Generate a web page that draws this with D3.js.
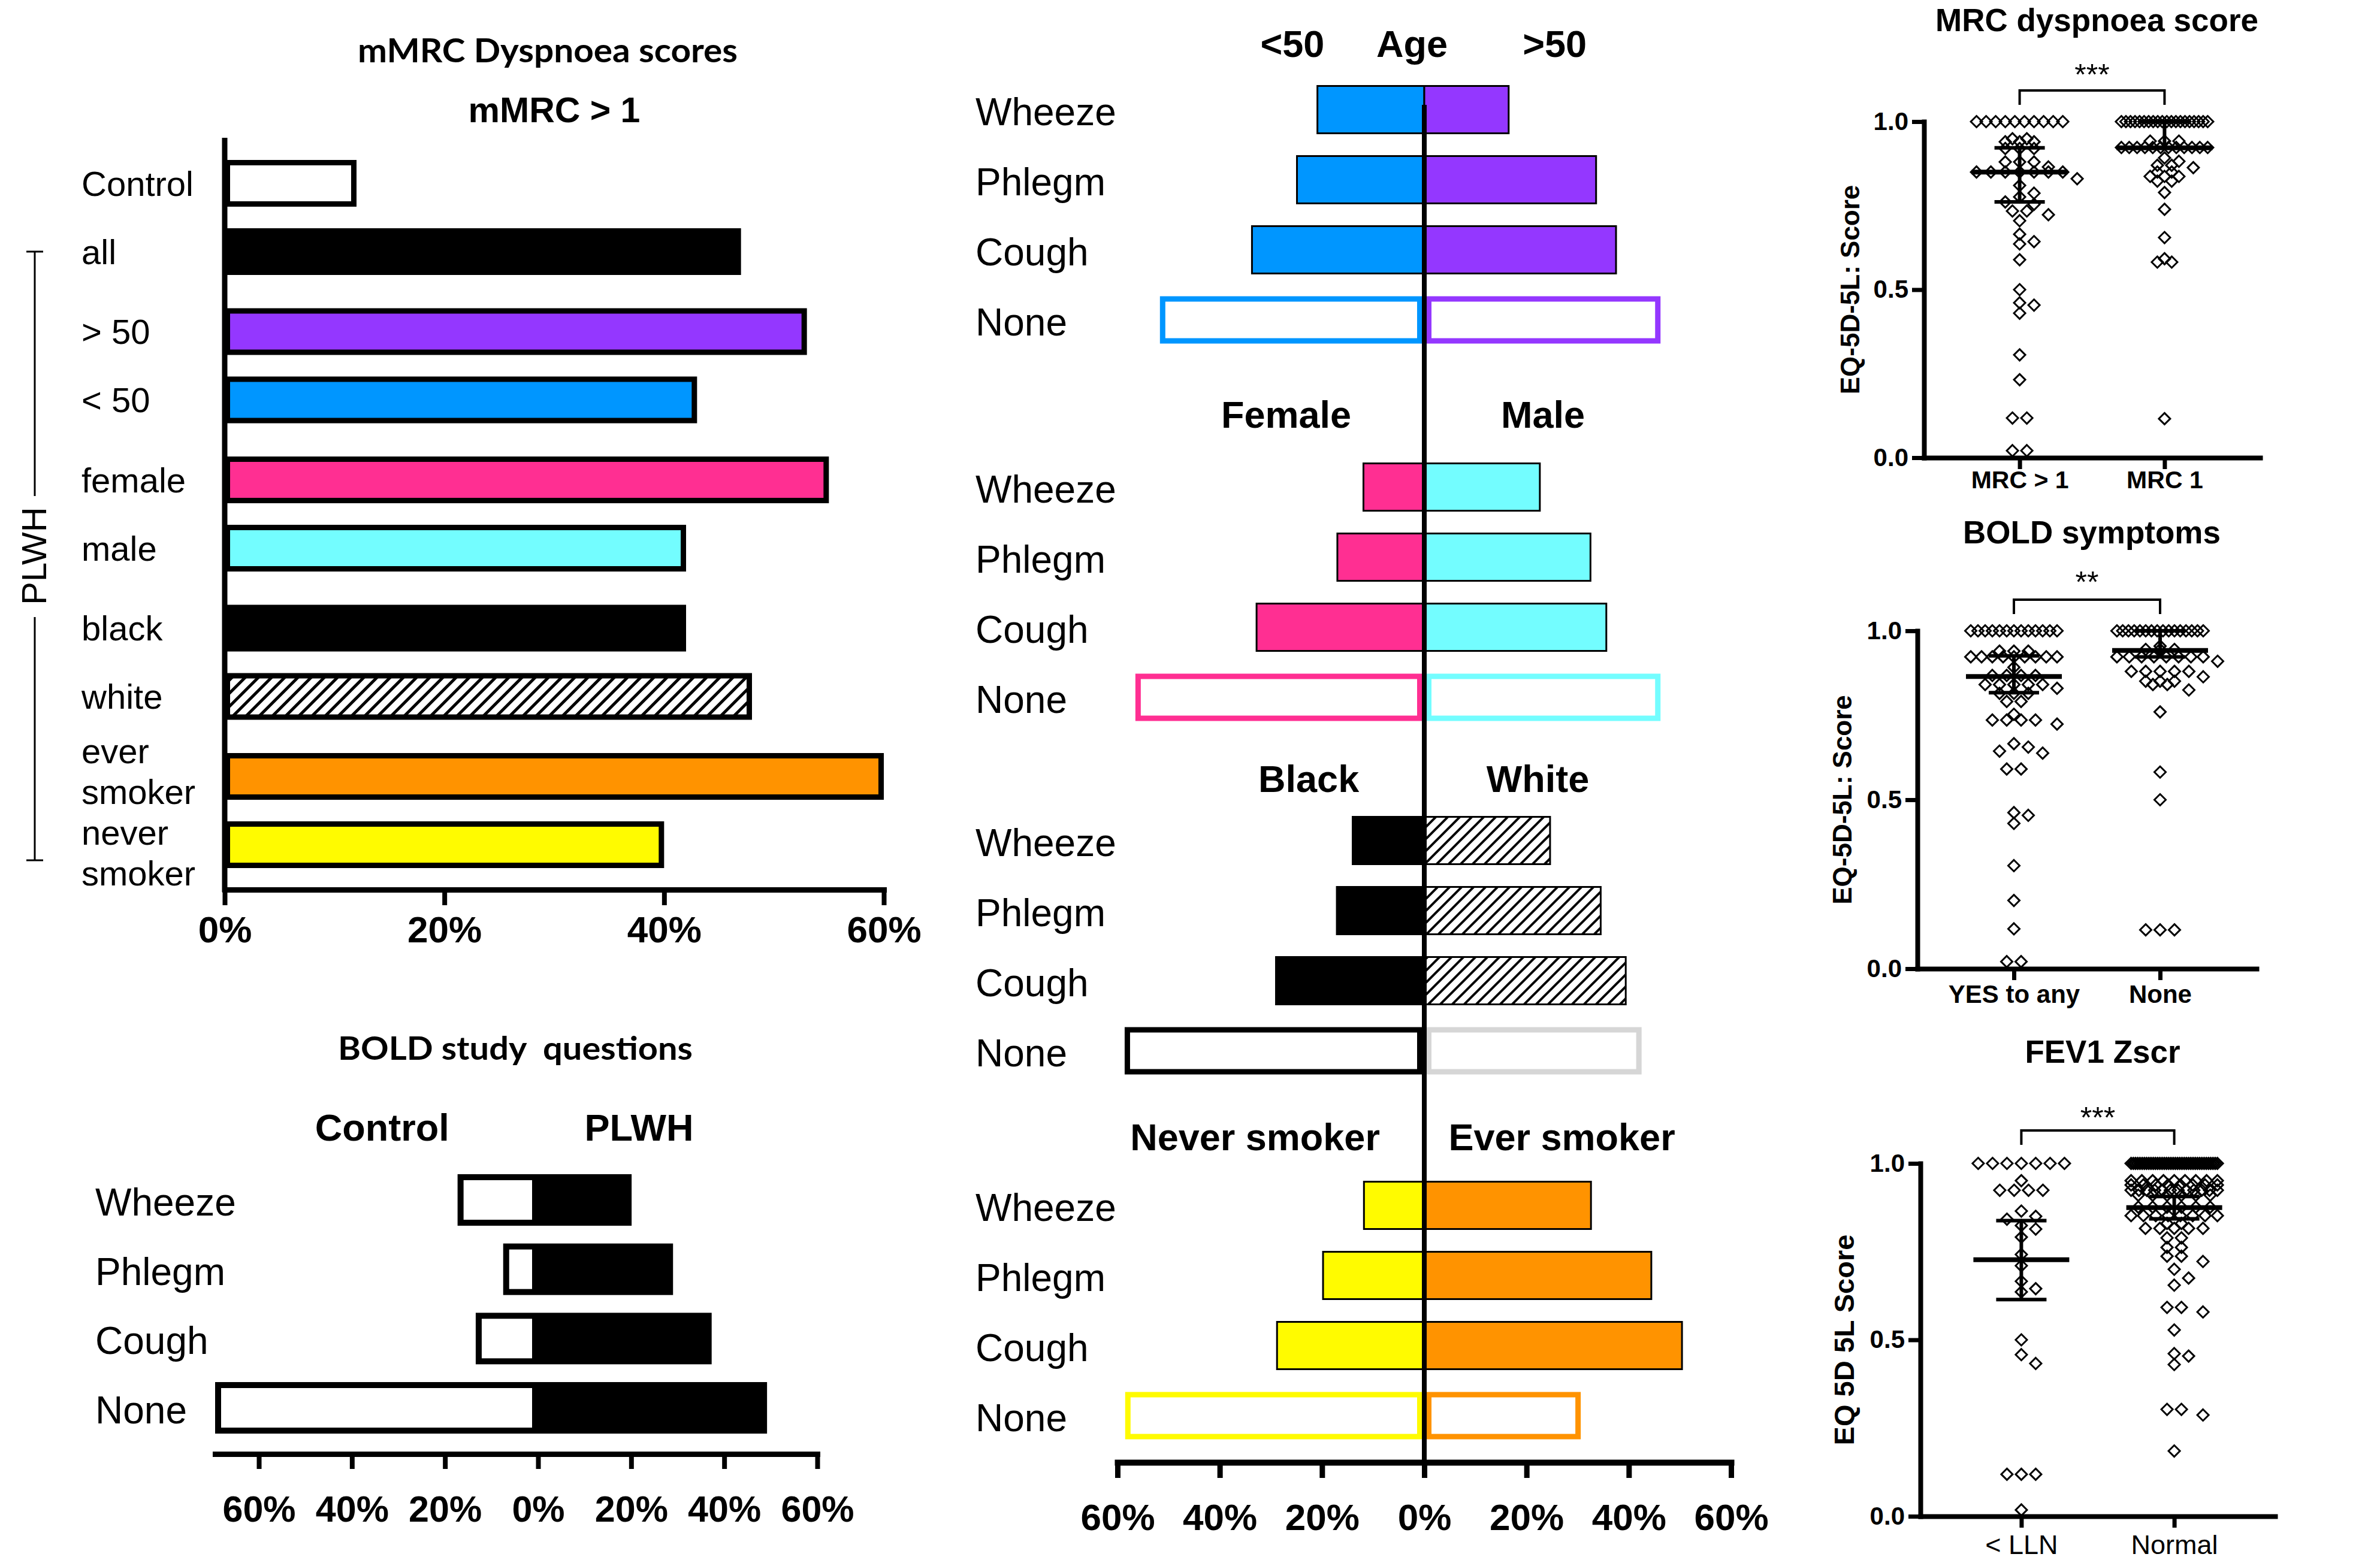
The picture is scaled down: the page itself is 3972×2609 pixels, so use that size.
<!DOCTYPE html>
<html>
<head>
<meta charset="utf-8">
<script src="https://cdn.jsdelivr.net/npm/d3@7"></script>
<style>
	html, body { margin: 0; padding: 0; background: #fff; }
	svg { display: block; }
	text { font-family: "Liberation Sans", Arial, sans-serif; fill: #000; }
</style>
</head>
<body>
<div id="chart"></div>
<script>
// ---------- data: mMRC > 1 (% of group) ----------
const mmrcGroups = ["Control", "all", "> 50", "< 50", "female", "male", "black", "white", "ever smoker", "never smoker"];
const mmrcValues = [12, 47, 53, 43, 55, 42, 42, 48, 60, 40];

// ---------- data: BOLD study questions (%) ----------
const symptoms = ["Wheeze", "Phlegm", "Cough", "None"];
const boldControl = [17.3, 7.5, 13.4, 69.4];
const boldPLWH = [20.1, 29, 37.3, 49.2];

// ---------- data: symptoms by subgroup (%) ----------
const ageUnder50 = [20.9, 24.9, 33.7, 51.7];
const ageOver50 = [16.5, 33.6, 37.5, 46.2];
const female = [11.9, 17, 32.8, 56.5];
const male = [22.6, 32.5, 35.6, 46.2];
const black = [14, 17.1, 29, 58.6];
const white = [24.6, 34.5, 39.4, 42.5];
const neverSmoker = [11.8, 19.8, 28.8, 58.5];
const everSmoker = [32.6, 44.4, 50.4, 30.6];

// ---------- data: EQ-5D-5L scores, [value, count] ----------
const mrcHighDots = [[1.0, 10], [0.949, 2], [0.94, 3], [0.92, 3], [0.88, 3], [0.865, 1], [0.85, 7], [0.83, 1], [0.81, 1],
	[0.787, 1], [0.776, 1], [0.761, 1], [0.754, 1], [0.734, 2], [0.723, 1], [0.705, 1], [0.665, 1], [0.643, 1], [0.636, 1],
	[0.589, 1], [0.5, 1], [0.461, 1], [0.454, 1], [0.43, 1], [0.306, 1], [0.232, 1], [0.118, 2], [0.021, 2]];
const mrcOneDots = [[1.0, 20], [0.942, 3], [0.923, 12], [0.892, 1], [0.882, 1], [0.87, 2], [0.863, 1], [0.85, 2], [0.837, 3],
	[0.823, 2], [0.789, 1], [0.739, 1], [0.655, 1], [0.592, 1], [0.582, 2], [0.116, 1]];
const mrcCenter = [0.85, 0.922];
const mrcLower = [0.761, 0.922];
const mrcUpper = [0.922, 1.0];

const boldYesDots = [[1.0, 13], [0.94, 3], [0.923, 9], [0.892, 1], [0.868, 4], [0.841, 5], [0.83, 1], [0.815, 3], [0.791, 2],
	[0.753, 1], [0.736, 4], [0.724, 1], [0.666, 1], [0.656, 1], [0.644, 1], [0.638, 1], [0.591, 2], [0.462, 1], [0.454, 1],
	[0.43, 1], [0.305, 1], [0.202, 1], [0.118, 1], [0.021, 2]];
const boldNoneDots = [[1.0, 16], [0.955, 1], [0.945, 3], [0.923, 8], [0.91, 1], [0.88, 5], [0.864, 1], [0.851, 3], [0.841, 2],
	[0.825, 1], [0.76, 1], [0.582, 1], [0.5, 1], [0.115, 3]];
const boldCenter = [0.865, 0.942];
const boldLower = [0.817, 0.923];
const boldUpper = [0.926, 1.0];

const fevLowDots = [[1.0, 7], [0.951, 1], [0.924, 4], [0.865, 1], [0.85, 1], [0.842, 1], [0.824, 1], [0.814, 1], [0.791, 1],
	[0.742, 1], [0.71, 1], [0.666, 1], [0.645, 1], [0.636, 1], [0.5, 1], [0.458, 1], [0.433, 1], [0.119, 3], [0.018, 1]];
const fevNormalDots = [[1.0, 40], [0.951, 9], [0.939, 8], [0.924, 12], [0.91, 6], [0.876, 6], [0.852, 8], [0.83, 2], [0.816, 5],
	[0.789, 2], [0.762, 2], [0.737, 2], [0.722, 1], [0.7, 1], [0.675, 1], [0.655, 1], [0.592, 2], [0.579, 1], [0.528, 1],
	[0.461, 1], [0.454, 1], [0.43, 1], [0.303, 2], [0.287, 1], [0.185, 1]];
const fevCenter = [0.727, 0.875];
const fevLower = [0.614, 0.843];
const fevUpper = [0.838, 0.906];

// ---------- styles ----------
const BLUE = "#0096FF", PURPLE = "#9437FF", PINK = "#FF2F92", CYAN = "#73FDFF",
	ORANGE = "#FF9300", YELLOW = "#FFFB00", GREY = "#D6D6D6";
const mmrcFill = ["#fff", "#000", PURPLE, BLUE, PINK, CYAN, "#000", "url(#hatchA)", ORANGE, YELLOW];

const svg = d3.select("#chart").append("svg")
	.attr("width", 3972)
	.attr("height", 2609);
svg.append("rect").attr("width", 3972).attr("height", 2609).attr("fill", "#fff");

const defs = svg.append("defs");

/**
 * Diagonal "/" hatch pattern
 */
function hatch(id, size, sw) {
	const p = defs.append("pattern")
		.attr("id", id)
		.attr("patternUnits", "userSpaceOnUse")
		.attr("width", size)
		.attr("height", size);
	p.append("rect").attr("width", size).attr("height", size).attr("fill", "#fff");
	p.append("path")
		.attr("d", `M${-size / 4},${size / 4}l${size / 2},${-size / 2}M0,${size}l${size},${-size}M${size * 3 / 4},${size * 5 / 4}l${size / 2},${-size / 2}`)
		.attr("stroke", "#000")
		.attr("stroke-width", sw);
}
hatch("hatchA", 22, 5);
hatch("hatchM", 20, 4);

/**
 * Makes axis lines heavy and labels big
 */
function styleAxis(axisG, fontSize, lineWidth, weight) {
	axisG.attr("font-family", null).attr("font-size", fontSize).attr("font-weight", weight || "bold");
	axisG.select(".domain").attr("stroke-width", lineWidth).attr("stroke-linecap", "square");
	axisG.selectAll(".tick line").attr("stroke-width", lineWidth - 1);
}

function addText(g, str, x, y, size, opts) {
	opts = opts || {};
	return g.append("text")
		.text(str)
		.attr("x", x)
		.attr("y", y)
		.attr("font-size", size)
		.attr("font-weight", opts.weight || "normal")
		.attr("text-anchor", opts.anchor || "middle")
		.attr("dominant-baseline", "central");
}

// ======================= mMRC bar chart =======================
function renderMmrc() {
	const g = svg.append("g");
	const x = d3.scaleLinear().domain([0, 60]).range([375, 1475]);
	// bars come in pairs: one point per pair, then a small offset inside
	const outer = d3.scalePoint().domain(d3.range(mmrcGroups.length / 2)).range([363, 1353]);
	const inner = d3.scalePoint().domain([0, 1]).range([-57, 57]);
	const yPos = i => outer(Math.floor(i / 2)) + inner(i % 2);
	const barH = 78, sw = 9;

	g.selectAll("rect.bar").data(mmrcValues).join("rect")
		.attr("x", x(0) + sw / 2)
		.attr("y", (d, i) => yPos(i) - barH / 2 + sw / 2)
		.attr("width", d => x(d) - x(0) - sw)
		.attr("height", barH - sw)
		.attr("fill", (d, i) => mmrcFill[i])
		.attr("stroke", "#000")
		.attr("stroke-width", sw);

	mmrcGroups.forEach((name, i) => {
		const lines = name.indexOf("smoker") > 0 ? name.split(" ") : [name];
		// two-line labels sit a little apart from each other
		const shift = lines.length > 1 ? (i % 2 ? 13 : -9) : 0;
		lines.forEach((line, k) => {
			addText(g, line, 136, yPos(i) + shift + (k - (lines.length - 1) / 2) * 68, 58, { anchor: "start" });
		});
	});

	// axes
	const ax = g.append("g")
		.attr("transform", "translate(0,1485)")
		.call(d3.axisBottom(x).tickValues([0, 20, 40, 60]).tickFormat(d => d + "%")
			.tickSize(26).tickSizeOuter(0).tickPadding(18));
	styleAxis(ax, 62, 9);
	g.append("line")
		.attr("x1", x(0)).attr("x2", x(0))
		.attr("y1", 230).attr("y2", 1489)
		.attr("stroke", "#000").attr("stroke-width", 9);

	// PLWH bracket
	const top = yPos(1), bottom = yPos(mmrcGroups.length - 1) + 26, mid = (top + bottom) / 2;
	const br = g.append("g").attr("stroke", "#000").attr("stroke-width", 3);
	br.append("line").attr("x1", 58).attr("x2", 58).attr("y1", top).attr("y2", mid - 100);
	br.append("line").attr("x1", 58).attr("x2", 58).attr("y1", mid + 102).attr("y2", bottom);
	br.append("line").attr("x1", 44).attr("x2", 72).attr("y1", top).attr("y2", top);
	br.append("line").attr("x1", 44).attr("x2", 72).attr("y1", bottom).attr("y2", bottom);
	addText(g, "PLWH", 0, 0, 58).attr("transform", `translate(56,${mid}) rotate(-90)`);

	// titles
	addText(g, "mMRC Dyspnoea scores", 914, 82, 56, { weight: "bold" })
		.style("font-family", "Lato, 'Open Sans', sans-serif")
		.attr("textLength", 634).attr("lengthAdjust", "spacingAndGlyphs");
	addText(g, "mMRC > 1", 925, 184, 59, { weight: "bold" });
}

// ======================= BOLD study questions =======================
function renderBold() {
	const g = svg.append("g");
	const x = d3.scaleLinear().domain([-69.4, 60]).range([359, 1364]);
	const y = d3.scalePoint().domain(symptoms).range([2003, 2350]);
	const barH = 86, sw = 10;

	g.selectAll("rect.ctrl").data(boldControl).join("rect")
		.attr("x", d => x(-d) + sw / 2)
		.attr("y", (d, i) => y(symptoms[i]) - barH / 2 + sw / 2)
		.attr("width", d => x(0) - x(-d) - sw)
		.attr("height", barH - sw)
		.attr("fill", "#fff")
		.attr("stroke", "#000")
		.attr("stroke-width", sw);

	g.selectAll("rect.plwh").data(boldPLWH).join("rect")
		.attr("x", x(0))
		.attr("y", (d, i) => y(symptoms[i]) - barH / 2)
		.attr("width", d => x(d) - x(0))
		.attr("height", barH)
		.attr("fill", "#000");

	symptoms.forEach(s => addText(g, s, 159, y(s) + 4, 64, { anchor: "start" }));

	const ax = g.append("g")
		.attr("transform", "translate(0,2427)")
		.call(d3.axisBottom(x).tickValues([-60, -40, -20, 0, 20, 40, 60]).tickFormat(d => Math.abs(d) + "%")
			.tickSize(25).tickSizeOuter(0).tickPadding(45));
	styleAxis(ax, 61, 9);

	addText(g, "Control", x(-33.5), 1882, 63, { weight: "bold" });
	addText(g, "PLWH", x(21.7), 1882, 63, { weight: "bold" });
	addText(g, "BOLD study  questions", 860, 1748, 53, { weight: "bold" })
		.style("font-family", "Lato, 'Open Sans', sans-serif")
		.style("white-space", "pre")
		.attr("textLength", 592).attr("lengthAdjust", "spacingAndGlyphs");
}

// ======================= symptoms by subgroup =======================
function renderSubgroups() {
	const g = svg.append("g");
	const x = d3.scaleLinear().domain([-60, 60]).range([1865, 2889]);
	const rowStep = 117, barH = 79;

	const sections = [
		{ left: ageUnder50, right: ageOver50, lc: BLUE, lfill: BLUE, rfill: PURPLE, rNone: PURPLE,
			top: 183, headY: 73, heads: [["<50", -25.8], ["Age", -2.4], [">50", 25.5]] },
		{ left: female, right: male, lc: PINK, lfill: PINK, rfill: CYAN, rNone: CYAN,
			top: 813, headY: 692, heads: [["Female", -27], ["Male", 23.2]] },
		{ left: black, right: white, lc: "#000", lfill: "#000", rfill: "url(#hatchM)", rNone: GREY,
			top: 1403, headY: 1300, heads: [["Black", -22.6], ["White", 22.2]] },
		{ left: neverSmoker, right: everSmoker, lc: YELLOW, lfill: YELLOW, rfill: ORANGE, rNone: ORANGE,
			top: 2012, headY: 1898, heads: [["Never smoker", -33.1], ["Ever smoker", 26.9]] }
	];

	sections.forEach(sec => {
		const y = d3.scalePoint().domain(symptoms).range([sec.top, sec.top + rowStep * 3]);
		const isNone = s => s === "None";

		// left side
		g.append("g").selectAll("rect").data(sec.left).join("rect")
			.each(function (d, i) {
				const s = symptoms[i], sw = isNone(s) ? 9 : 3;
				d3.select(this)
					.attr("x", x(-d) + (isNone(s) ? sw / 2 : 0))
					.attr("y", y(s) - barH / 2 + (isNone(s) ? sw / 2 : 0))
					.attr("width", x(0) - x(-d) - (isNone(s) ? sw + 3 : 0))
					.attr("height", barH - (isNone(s) ? sw : 0))
					.attr("fill", isNone(s) ? "#fff" : sec.lfill)
					.attr("stroke", isNone(s) ? sec.lc : "#000")
					.attr("stroke-width", sw);
			});

		// right side
		g.append("g").selectAll("rect").data(sec.right).join("rect")
			.each(function (d, i) {
				const s = symptoms[i], sw = isNone(s) ? 9 : 3;
				d3.select(this)
					.attr("x", x(0) + (isNone(s) ? sw / 2 + 3 : 0))
					.attr("y", y(s) - barH / 2 + (isNone(s) ? sw / 2 : 0))
					.attr("width", x(d) - x(0) - (isNone(s) ? sw + 3 : 0))
					.attr("height", barH - (isNone(s) ? sw : 0))
					.attr("fill", isNone(s) ? "#fff" : sec.rfill)
					.attr("stroke", isNone(s) ? sec.rNone : "#000")
					.attr("stroke-width", sw);
			});

		symptoms.forEach(s => addText(g, s, 1628, y(s) + 4, 64, { anchor: "start" }));
		sec.heads.forEach(h => addText(g, h[0], x(h[1]), sec.headY, 63, { weight: "bold" }));
	});

	// centre line and shared axis
	g.append("line")
		.attr("x1", x(0)).attr("x2", x(0))
		.attr("y1", 175).attr("y2", 2441)
		.attr("stroke", "#000").attr("stroke-width", 8);

	const ax = g.append("g")
		.attr("transform", "translate(0,2441)")
		.call(d3.axisBottom(x).tickValues([-60, -40, -20, 0, 20, 40, 60]).tickFormat(d => Math.abs(d) + "%")
			.tickSize(26).tickSizeOuter(0).tickPadding(43));
	styleAxis(ax, 62, 10);
}

// ======================= EQ-5D-5L dot plots =======================

/**
 * Lays points out in a simple beeswarm: tied values in a row,
 * single values pushed sideways until they stop touching
 */
function swarm(counts, y, cx, step, maxHalf) {
	const placed = [];
	counts.slice().sort((a, b) => b[0] - a[0]).forEach(([v, n]) => {
		const py = y(v);
		if (n > 1) {
			const s = Math.min(step, 2 * maxHalf / (n - 1));
			for (let i = 0; i < n; i++) placed.push({ x: cx + (i - (n - 1) / 2) * s, y: py });
		} else {
			let off = 0;
			for (let k = 0; k < 9; k++) {
				const cand = (k % 2 ? 1 : -1) * Math.ceil(k / 2) * step;
				const hit = placed.some(p => Math.abs(p.y - py) < 16 && Math.abs(p.x - cx - cand) < 19);
				if (!hit) { off = cand; break; }
			}
			placed.push({ x: cx + off, y: py });
		}
	});
	return placed;
}

const dotPanels = [
	{ title: "MRC dyspnoea score", cats: ["MRC > 1", "MRC 1"], dots: [mrcHighDots, mrcOneDots],
		center: mrcCenter, lower: mrcLower, upper: mrcUpper, stars: "***", yTitle: "EQ-5D-5L: Score", catWeight: "bold",
		box: { x0: 3211, x1: 3772, y0: 764, y1: 203, titleY: 33, bracketY: 151, starsY: 114, yTitleX: 3087, catPad: 3, yTitleSize: 44, catSize: 41 } },
	{ title: "BOLD symptoms", cats: ["YES to any", "None"], dots: [boldYesDots, boldNoneDots],
		center: boldCenter, lower: boldLower, upper: boldUpper, stars: "**", yTitle: "EQ-5D-5L: Score", catWeight: "bold",
		box: { x0: 3200, x1: 3766, y0: 1617, y1: 1053, titleY: 888, bracketY: 1001, starsY: 961, yTitleX: 3074, catPad: 8, yTitleSize: 44, catSize: 42 } },
	{ title: "FEV1 Zscr", cats: ["< LLN", "Normal"], dots: [fevLowDots, fevNormalDots],
		center: fevCenter, lower: fevLower, upper: fevUpper, stars: "***", yTitle: "EQ 5D 5L Score", catWeight: "normal",
		box: { x0: 3205, x1: 3797, y0: 2531, y1: 1942, titleY: 1755, bracketY: 1887, starsY: 1855, yTitleX: 3077, catPad: 12, yTitleSize: 47, catSize: 45 } }
];

function renderDotPanel(p) {
	const b = p.box;
	const g = svg.append("g");
	const y = d3.scaleLinear().domain([0, 1]).range([b.y0, b.y1]);
	const x = d3.scalePoint().domain(p.cats).range([b.x0, b.x1]).padding(0.66);
	const diamond = "M0,-9.5L9.5,0L0,9.5L-9.5,0Z";

	p.cats.forEach((c, i) => {
		const pts = swarm(p.dots[i], y, x(c), 24, 72);
		g.append("g").selectAll("path").data(pts).join("path")
			.attr("d", diamond)
			.attr("transform", d => `translate(${d.x},${d.y})`)
			.attr("fill", "none")
			.attr("stroke", "#000")
			.attr("stroke-width", 3);

		// centre line with error bars
		const cx = x(c);
		const s = g.append("g").attr("stroke", "#000");
		s.append("line").attr("x1", cx - 80).attr("x2", cx + 80)
			.attr("y1", y(p.center[i])).attr("y2", y(p.center[i])).attr("stroke-width", 8);
		s.append("line").attr("x1", cx).attr("x2", cx)
			.attr("y1", y(p.lower[i])).attr("y2", y(p.upper[i])).attr("stroke-width", 6);
		[p.lower[i], p.upper[i]].forEach(v => {
			s.append("line").attr("x1", cx - 42).attr("x2", cx + 42)
				.attr("y1", y(v)).attr("y2", y(v)).attr("stroke-width", 6);
		});
	});

	const ay = g.append("g")
		.attr("transform", `translate(${b.x0},0)`)
		.call(d3.axisLeft(y).tickValues([0, 0.5, 1]).tickFormat(d3.format(".1f"))
			.tickSize(20).tickSizeOuter(0).tickPadding(6));
	styleAxis(ay, 42, 8);

	const axx = g.append("g")
		.attr("transform", `translate(0,${b.y0})`)
		.call(d3.axisBottom(x).tickSize(19).tickSizeOuter(0).tickPadding(b.catPad));
	styleAxis(axx, b.catSize, 8, p.catWeight);

	// significance bracket
	const x1 = x(p.cats[0]), x2 = x(p.cats[1]);
	g.append("path")
		.attr("d", `M${x1},${b.bracketY + 24}V${b.bracketY}H${x2}V${b.bracketY + 24}`)
		.attr("fill", "none").attr("stroke", "#000").attr("stroke-width", 4);
	g.append("text").text(p.stars)
		.attr("x", (x1 + x2) / 2).attr("y", b.starsY + 28)
		.attr("text-anchor", "middle").attr("font-size", 50);

	addText(g, p.title, (b.x0 + b.x1) / 2 + 8, b.titleY, 53, { weight: "bold" });
	addText(g, p.yTitle, 0, 0, b.yTitleSize, { weight: "bold" })
		.attr("transform", `translate(${b.yTitleX},${(b.y0 + b.y1) / 2}) rotate(-90)`);
}

renderMmrc();
renderBold();
renderSubgroups();
dotPanels.forEach(renderDotPanel);
</script>
</body>
</html>
